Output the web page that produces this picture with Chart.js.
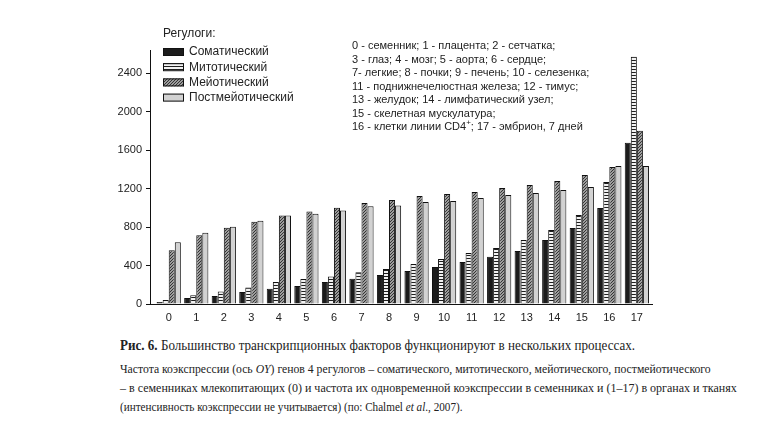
<!DOCTYPE html>
<html lang="ru">
<head>
    <meta charset="UTF-8">
    <title>Рис. 6</title>
    <style>
        body {
            margin: 0;
            background: #fff;
            width: 776px;
            height: 448px;
            position: relative;
            overflow: hidden;
        }
        #wrap {
            position: absolute;
            left: 0;
            top: 0;
            width: 776px;
            height: 330px;
        }
        .caption {
            position: absolute;
            left: 120px;
            font-family: "Liberation Serif", "Times New Roman", serif;
            color: #222;
            white-space: nowrap;
            transform-origin: 0 0;
        }
        #title {
            top: 338px;
            font-size: 14px;
            transform: scaleX(0.933);
        }
        .note {
            font-size: 12px;
        }
        #n1 { top: 362px; transform: scaleX(0.975); }
        #n2 { top: 381px; }
        #n3 { top: 400px; transform: scaleX(0.93); }
    </style>
</head>
<body>
    <div id="wrap"><canvas id="chart" width="776" height="330"></canvas></div>
    <div class="caption" id="title"><b>Рис. 6.</b> Большинство транскрипционных факторов функционируют в нескольких процессах.</div>
    <div class="caption note" id="n1">Частота коэкспрессии (ось <i>OY</i>) генов 4 регулогов – соматического, митотического, мейотического, постмейотического</div>
    <div class="caption note" id="n2">– в семенниках млекопитающих (0) и частота их одновременной коэкспрессии в семенниках и (1–17) в органах и тканях</div>
    <div class="caption note" id="n3">(интенсивность коэкспрессии не учитывается) (по: Chalmel <i>et al</i>., 2007).</div>

    <script src="https://cdn.jsdelivr.net/npm/chart.js"></script>
    <script>
        const categories = ['0', '1', '2', '3', '4', '5', '6', '7', '8', '9', '10', '11', '12', '13', '14', '15', '16', '17'];
        const somatic = [20, 62, 83, 124, 159, 186, 228, 262, 301, 343, 384, 436, 492, 551, 665, 790, 997, 1676];
        const mitotic = [41, 90, 131, 172, 228, 259, 286, 331, 364, 416, 467, 530, 582, 665, 769, 925, 1267, 2570];
        const meiotic = [559, 714, 793, 855, 921, 962, 1000, 1049, 1080, 1122, 1143, 1164, 1205, 1236, 1278, 1340, 1423, 1800];
        const postmeiotic = [641, 741, 803, 866, 921, 938, 972, 1015, 1025, 1060, 1070, 1101, 1132, 1153, 1184, 1215, 1434, 1434];
        const seriesNames = ['Соматический', 'Митотический', 'Мейотический', 'Постмейотический'];
        const yTicks = [0, 400, 800, 1200, 1600, 2000, 2400];
        const yMax = 2640;

        const legendTitle = 'Регулоги:';
        const keyLines = [
            '0 - семенник; 1 - плацента; 2 - сетчатка;',
            '3 - глаз; 4 - мозг; 5 - аорта; 6 - сердце;',
            '7- легкие; 8 - почки; 9 - печень; 10 - селезенка;',
            '11 - поднижнечелюстная железа; 12 - тимус;',
            '13 - желудок; 14 - лимфатический узел;',
            '15 - скелетная мускулатура;',
            ['16 - клетки линии CD4', '+', '; 17 - эмбрион, 7 дней']
        ];

        const FONT = '"Liberation Sans", Arial, sans-serif';

        // fill patterns for the hatched bars
        function stripes() {
            const c = document.createElement('canvas');
            c.width = 3; c.height = 3;
            const g = c.getContext('2d');
            g.fillStyle = '#f2f2f2';
            g.fillRect(0, 0, 3, 3);
            g.fillStyle = '#1e1e1e';
            g.fillRect(0, 0, 3, 1);
            return g.createPattern(c, 'repeat');
        }
        function hatch() {
            const c = document.createElement('canvas');
            c.width = 3; c.height = 3;
            const g = c.getContext('2d');
            g.fillStyle = '#9c9c9c';
            g.fillRect(0, 0, 3, 3);
            g.fillStyle = '#333';
            g.fillRect(2, 0, 1, 1);
            g.fillRect(1, 1, 1, 1);
            g.fillRect(0, 2, 1, 1);
            return g.createPattern(c, 'repeat');
        }

        const fills = ['#1c1c1c', stripes(), hatch(), '#d2d2d2'];
        const values = [somatic, mitotic, meiotic, postmeiotic];

        // legend + organ key drawn on the canvas
        const notes = {
            id: 'notes',
            afterDraw(chart) {
                const ctx = chart.ctx;
                ctx.save();
                ctx.fillStyle = '#222';
                ctx.textBaseline = 'middle';
                ctx.textAlign = 'left';
                ctx.font = '12px ' + FONT;
                ctx.fillText(legendTitle, 163, 34);
                chart.data.datasets.forEach((ds, i) => {
                    const y = 52 + i * 15.2;
                    ctx.fillStyle = ds.backgroundColor;
                    ctx.fillRect(163, y - 4, 21, 8);
                    ctx.strokeStyle = '#111';
                    ctx.lineWidth = 1;
                    ctx.strokeRect(163.5, y - 3.5, 20, 7);
                    ctx.fillStyle = '#222';
                    ctx.fillText(ds.label, 189, y);
                });
                ctx.font = '11px ' + FONT;
                keyLines.forEach((line, i) => {
                    const y = 46 + i * 13.5;
                    if (Array.isArray(line)) {
                        let x = 352;
                        ctx.fillText(line[0], x, y);
                        x += ctx.measureText(line[0]).width;
                        ctx.font = '8px ' + FONT;
                        ctx.fillText(line[1], x, y - 4);
                        x += ctx.measureText(line[1]).width;
                        ctx.font = '11px ' + FONT;
                        ctx.fillText(line[2], x, y);
                    } else {
                        ctx.fillText(line, 352, y);
                    }
                });
                ctx.restore();
            }
        };

        const bg = {
            id: 'bg',
            beforeDraw(chart) {
                const ctx = chart.ctx;
                ctx.save();
                ctx.fillStyle = '#fff';
                ctx.fillRect(0, 0, chart.width, chart.height);
                ctx.restore();
            }
        };

        new Chart(document.getElementById('chart'), {
            type: 'bar',
            data: {
                datasets: seriesNames.map((name, i) => ({
                    label: name,
                    data: values[i].map((v, k) => ({ x: k, y: v })),
                    backgroundColor: fills[i],
                    borderColor: '#111',
                    borderWidth: 1,
                    borderSkipped: 'bottom'
                }))
            },
            options: {
                responsive: false,
                animation: false,
                events: [],
                layout: { padding: { left: 110, right: 124, top: 50, bottom: 0 } },
                datasets: { bar: { categoryPercentage: 0.88, barPercentage: 1 } },
                plugins: { legend: { display: false }, tooltip: { enabled: false } },
                scales: {
                    x: {
                        type: 'linear',
                        offset: false,
                        min: -0.68,
                        max: 17.55,
                        afterFit(s) { s.height = 26; },
                        afterBuildTicks(s) { s.ticks = categories.map((c, k) => ({ value: k })); },
                        grid: { display: false, drawTicks: false },
                        border: { display: true, color: '#111', width: 1 },
                        ticks: {
                            color: '#222', font: { family: FONT, size: 11 }, padding: 7, maxRotation: 0, autoSkip: false,
                            callback: v => categories[v]
                        }
                    },
                    y: {
                        min: 0,
                        max: yMax,
                        afterFit(s) { s.width = 40; },
                        afterBuildTicks(s) { s.ticks = yTicks.map(v => ({ value: v })); },
                        grid: { drawOnChartArea: false, drawTicks: true, tickLength: 4, color: '#111' },
                        border: { display: true, color: '#111', width: 1 },
                        ticks: { color: '#222', font: { family: FONT, size: 11 }, padding: 4, callback: v => String(v) }
                    }
                }
            },
            plugins: [bg, notes]
        });
    </script>
</body>
</html>
